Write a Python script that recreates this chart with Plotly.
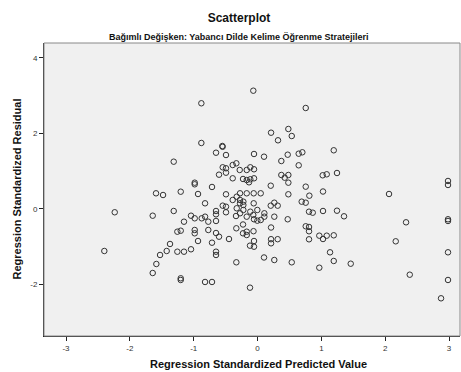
import plotly.graph_objects as go

# Regression standardized predicted values (x) and residuals (y)
pred = [
    -2.237, -2.400, -0.066, 2.984, 2.984, 2.060, 2.327, 2.984, 2.984, 2.165, 2.984, 2.385, 2.984, 2.875,
    -0.880, -0.880, -0.551, -0.547, -1.313, -0.984, -0.984, -0.713,
    0.755, 0.212, 0.321, 0.483, 0.536, 0.645, 0.702, 1.194, 0.645, 1.021, 1.084, 1.245, 0.755,
    0.812, 1.026, 0.692, 0.755, 0.807, 0.865, 1.026, 1.245, 1.355, 0.755, 0.807, 0.807,
    0.968, 1.026, 1.084, 1.194, 0.807, 1.136, 0.536, 1.194, 1.460, 0.968,
    -1.590, -1.480, -1.203, -0.932, -0.822, -1.642, -1.313, -1.042, -0.984, -0.874, -0.822,
    -0.771, -1.152, -1.256, -1.203, -0.984, -0.984, -0.932, -0.771, -0.713, -1.371, -1.423,
    -1.256, -1.152, -1.042, -1.527, -1.585, -1.642, -1.203, -1.203, -0.822, -0.713,
    -0.650, -0.603, -0.650, -0.650, -0.447, -0.332, -0.227, -0.227, -0.169, -0.169, -0.063,
    -0.118, -0.055, -0.055, 0.212, 0.212, 0.212, 0.316, 0.102, 0.263, -0.332, -0.118,
    -0.650, -0.494, -0.055, 0.102, 0.473, -0.545, -0.494, -0.389, -0.332, -0.603, -0.494,
    -0.389, -0.279, -0.169, -0.113, -0.055, -0.227, -0.169, -0.133, -0.113, -0.055, 0.373,
    0.207, 0.373, 0.426, 0.483, 0.483, -0.494, -0.274, -0.169, -0.060, 0.050, -0.326,
    -0.389, -0.274, -0.222, -0.274, -0.222, -0.060, -0.545, -0.494, -0.326, -0.222, -0.113,
    -0.003, -0.650, -0.650, -0.494, -0.274, -0.169, -0.055, -0.003, 0.050, 0.107, 0.107,
    0.207, 0.263, 0.316, 0.483, 0.473, 0.263, -0.650, -0.066, -0.337,
]
resid = [
    -0.095, -1.122, 3.130, 0.735, 0.629, 0.390, -0.361, -0.281, -0.326, -0.865, -1.157, -1.751, -1.891, -2.377,
    2.796, 1.743, 1.663, 1.642, 1.247, 0.690, 0.647, 0.576,
    2.671, 2.016, 1.814, 2.114, 1.928, 1.459, 1.496, 1.549, 1.151, 0.886, 0.912, 0.947, 0.584,
    0.345, 0.456, 0.186, 0.159, -0.080, -0.106, -0.061, -0.053, -0.202, -0.467, -0.485, -0.599,
    -0.716, -0.804, -0.716, -0.706, -0.812, -1.157, -1.422, -1.387, -1.459, -1.565,
    0.408, 0.363, 0.451, 0.390, 0.143, -0.186, -0.061, -0.186, -0.255, -0.255, -0.212,
    -0.345, -0.345, -0.610, -0.584, -0.565, -0.653, -0.857, -0.565, -0.902, -0.936, -1.122,
    -1.141, -1.141, -1.077, -1.228, -1.467, -1.706, -1.846, -1.891, -1.944, -1.944,
    -0.645, -0.743, -1.141, -1.228, -0.804, -0.520, -0.419, -0.653, -0.610, -0.698, -0.597,
    -0.981, -1.008, -0.857, -0.499, -0.809, -0.918, -0.809, -1.294, -1.361, -1.422, -2.095,
    1.485, 1.424, 1.451, 1.379, 1.432, 1.098, 1.072, 1.159, 1.204, 0.902, 0.955,
    0.806, 1.027, 1.027, 1.098, 1.045, 0.788, 0.761, 0.700, 0.780, 0.806, 1.265,
    0.610, 0.894, 0.822, 0.894, 0.690, 0.382, 0.408, 0.408, 0.408, 0.408, 0.318,
    0.231, 0.231, 0.186, 0.143, 0.098, 0.143, 0.080, 0.053, 0.011, -0.034, -0.080,
    -0.034, -0.061, -0.149, -0.095, -0.122, -0.212, -0.281, -0.318, -0.300, -0.122, -0.212,
    0.080, 0.159, 0.080, 0.382, -0.281, -0.212, -0.326, -0.167, -0.194,
]

x_ticks = [-3, -2, -1, 0, 1, 2, 3]
y_ticks = [-2, 0, 2, 4]

title_text = "Scatterplot"
subtitle_text = "Bağımlı Değişken: Yabancı Dilde Kelime Öğrenme Stratejileri"
x_title = "Regression Standardized Predicted Value"
y_title = "Regression Standardized Residual"

FONT = "Liberation Sans, Arial, sans-serif"

fig = go.Figure()
fig.add_trace(go.Scatter(
    x=pred, y=resid, mode="markers",
    marker=dict(symbol="circle-open", size=5.5, color="#333333", line=dict(width=1, color="#333333")),
    showlegend=False, hoverinfo="skip", cliponaxis=False,
))

fig.update_layout(
    width=461, height=372,
    margin=dict(l=44, r=1, t=43, b=36),
    paper_bgcolor="white",
    plot_bgcolor="#F0F0F0",
    font=dict(family=FONT, color="#222222"),
    title=dict(text="<b>" + title_text + "</b>", x=239 / 461, xanchor="center",
               y=1 - 18 / 372, yanchor="middle", yref="container",
               font=dict(size=12, color="#111111", family=FONT)),
    xaxis=dict(range=[-3.345, 3.172], tickvals=x_ticks, ticktext=[str(v) for v in x_ticks],
               showgrid=False, zeroline=False, showline=True, linecolor="#222222", linewidth=1,
               ticks="outside", ticklen=4, tickcolor="#222222", tickfont=dict(size=8, color="#333333"),
               mirror=False),
    yaxis=dict(range=[-3.377, 4.395], tickvals=y_ticks, ticktext=[str(v) for v in y_ticks],
               showgrid=False, zeroline=False, showline=True, linecolor="#222222", linewidth=1,
               ticks="outside", ticklen=4, tickcolor="#222222", tickfont=dict(size=8, color="#333333")),
)

# frame (top & right in gray)
fig.add_shape(type="rect", xref="paper", yref="paper", x0=0, y0=0, x1=1, y1=1,
              line=dict(color="#888888", width=1), layer="above")

fig.add_annotation(text="<b>" + subtitle_text + "</b>", xref="paper", yref="paper",
                   x=(238.5 - 44) / 416, y=(336 - 37) / 293, xanchor="center", yanchor="middle",
                   showarrow=False, font=dict(size=9, color="#111111", family=FONT))
fig.add_annotation(text="<b>" + x_title + "</b>", xref="paper", yref="paper",
                   x=(258 - 44) / 416, y=(336 - 364) / 293, xanchor="center", yanchor="middle",
                   showarrow=False, font=dict(size=11, color="#111111", family=FONT))
fig.add_annotation(text="<b>" + y_title + "</b>", xref="paper", yref="paper",
                   x=(16 - 44) / 416, y=0.5, xanchor="center", yanchor="middle", textangle=-90,
                   showarrow=False, font=dict(size=11, color="#111111", family=FONT))

fig.write_html("out.html", config={"displayModeBar": False},
               post_script="document.body.style.margin='0';document.body.style.overflow='hidden';")
